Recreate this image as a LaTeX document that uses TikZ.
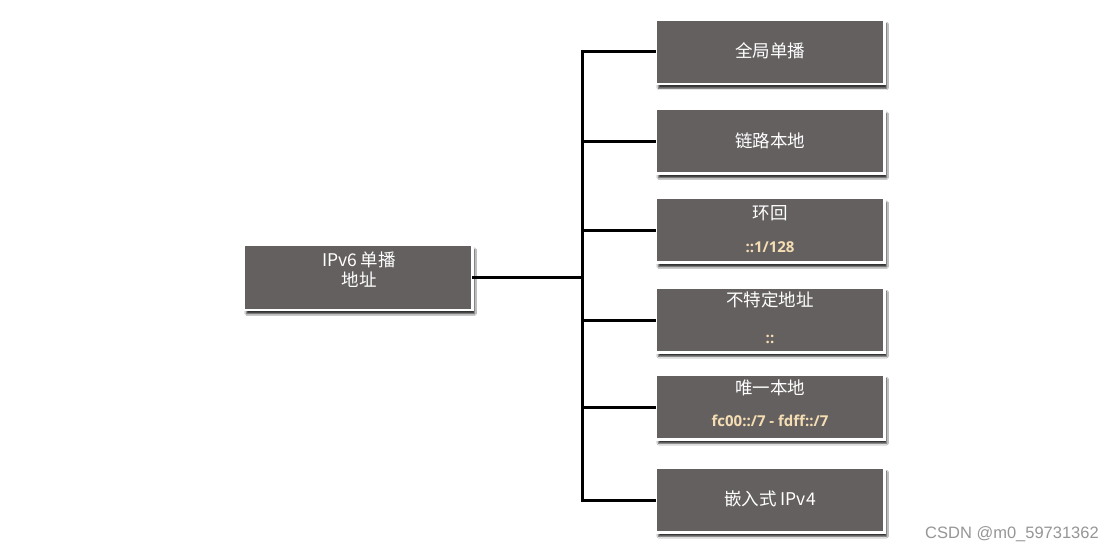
\documentclass[tikz,border=0pt]{standalone}
\usepackage{fontspec}
\setmainfont{Noto Sans CJK SC}
\newfontfamily\subfont{Open Sans}
\newfontfamily\wmfont{Liberation Sans}
\usetikzlibrary{shadows,shadows.blur}
\definecolor{boxgray}{RGB}{101,96,96}
\definecolor{subcol}{RGB}{245,222,179}
\definecolor{wmgray}{RGB}{150,150,150}
\tikzset{
  box/.style={draw=white, line width=2.5pt, fill=boxgray, minimum width=228.5pt, minimum height=64.5pt, inner sep=0pt,
    blur shadow={shadow xshift=2.6pt, shadow yshift=-4.2pt, shadow blur radius=1.6pt, shadow blur steps=6, shadow opacity=80}},
  title/.style={text=white, font=\fontsize{17.5}{20}\selectfont, inner sep=0pt, align=center},
  sub/.style={text=subcol, font=\subfont\bfseries\fontsize{15}{17}\selectfont, inner sep=0pt},
  conn/.style={line width=3pt, black, line cap=rect},
}
\begin{document}
\begin{tikzpicture}[x=1pt,y=-1pt]
\useasboundingbox[fill=white] (0,0) rectangle (1113,553);
% boxes
\node[box] (root) at (358,277.5) {};
\node[box] (b1) at (770,51.8) {};
\node[box] (b2) at (770,141.5) {};
\node[box] (b3) at (770,230.5) {};
\node[box] (b4) at (770,320) {};
\node[box] (b5) at (770,407) {};
\node[box] (b6) at (770,500) {};
% texts
\node[title] (troot) at (359,269.5) {IPv6 单播\\地址};
\node[title] (t1) at (770,50.5) {全局单播};
\node[title] (t2) at (770,140.5) {链路本地};
\node[title] (t3) at (770,213) {环回};
\node[sub] (s3) at (770,247) {::1/128};
\node[title] (t4) at (770,300) {不特定地址};
\node[sub] (s4) at (770,339) {::};
\node[title] (t5) at (770,388) {唯一本地};
\node[sub] (s5) at (770,421) {fc00::/7 - fdff::/7};
\node[title] (t6) at (770,499) {嵌入式 IPv4};
% connectors
\coordinate (top) at (582,51.8);
\coordinate (bot) at (582,500);
\draw[conn] (top) -- (bot);
\draw[conn] (root.east) -- (root.east -| top);
\foreach \b in {b1,b2,b3,b4,b5,b6}{
  \draw[conn] (\b.west -| top) -- (\b.west);
}
% watermark
\node[text=wmgray, font=\wmfont\fontsize{16.5}{18}\selectfont, anchor=east, inner sep=0pt] (wm) at (1099,534) {CSDN @m0\_59731362};
\end{tikzpicture}
\end{document}
